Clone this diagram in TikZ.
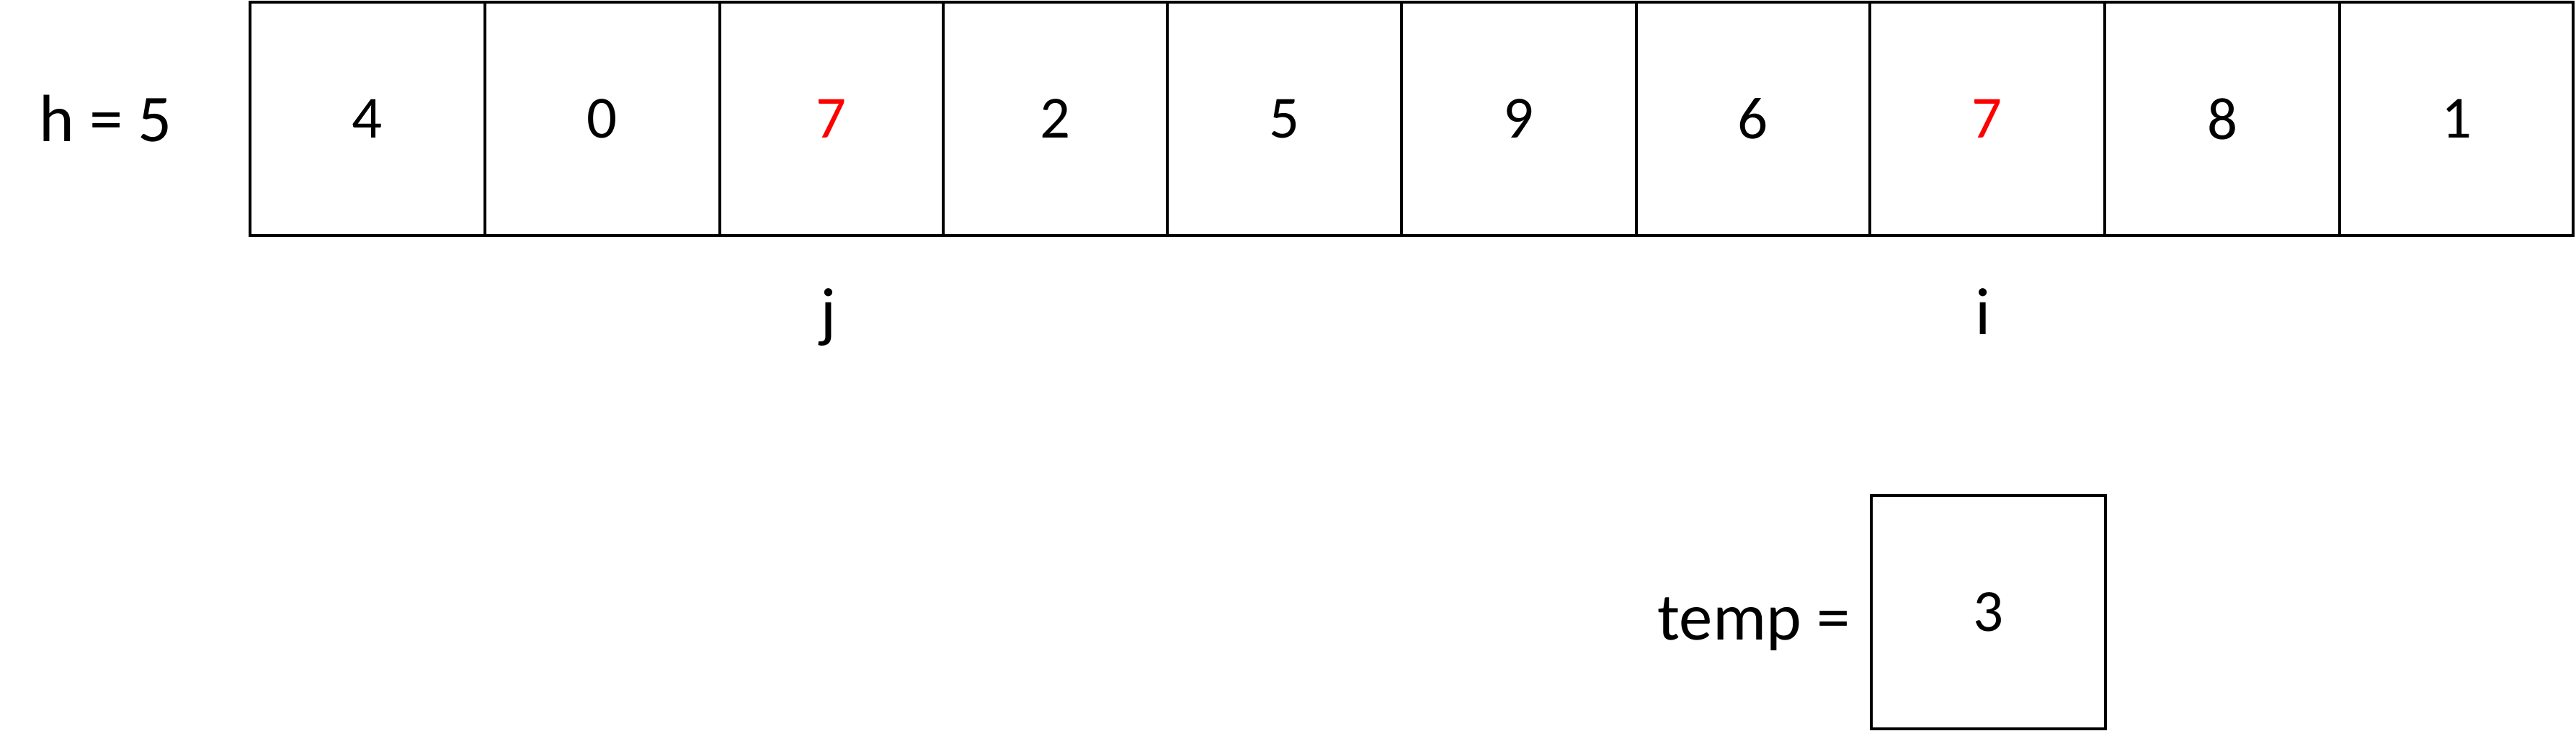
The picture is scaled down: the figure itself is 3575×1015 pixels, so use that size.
\documentclass[tikz,border=0pt]{standalone}
\usepackage{fontspec}
\setmainfont{Carlito}
\definecolor{hl}{RGB}{255,0,0}
\begin{document}
\begin{tikzpicture}[x=0.01cm,y=-0.01cm,
  cell/.style={draw, line width=1.3pt, inner sep=0, minimum height=3.24cm,
    font=\fontsize{23.6}{28}\selectfont},
  lbl/.style={inner sep=0, anchor=base, font=\fontsize{26.4}{32}\selectfont}]
\useasboundingbox (0,0) rectangle (3575,1015);
\node[lbl] (h) at (147,196) {h = 5};
\node[cell, minimum width=3.26cm] (c0) at (510,165) {4};
\node[cell, minimum width=3.26cm] (c1) at (836,165) {0};
\node[cell, minimum width=3.10cm, text=hl] (c2) at (1154,165) {7};
\node[cell, minimum width=3.11cm] (c3) at (1464.5,165) {2};
\node[cell, minimum width=3.25cm] (c4) at (1782.5,165) {5};
\node[cell, minimum width=3.26cm] (c5) at (2108,165) {9};
\node[cell, minimum width=3.24cm] (c6) at (2433,165) {6};
\node[cell, minimum width=3.26cm, text=hl] (c7) at (2758,165) {7};
\node[cell, minimum width=3.26cm] (c8) at (3084,165) {8};
\node[cell, minimum width=3.24cm] (c9) at (3409,165) {1};
\node[lbl] (j) at (1150,464) {j};
\node[lbl] (i) at (2752,464) {i};
\node[lbl] (templbl) at (2434,888) {temp =};
\node[cell, minimum width=3.25cm] (temp) at (2759.5,850) {3};
\end{tikzpicture}
\end{document}
